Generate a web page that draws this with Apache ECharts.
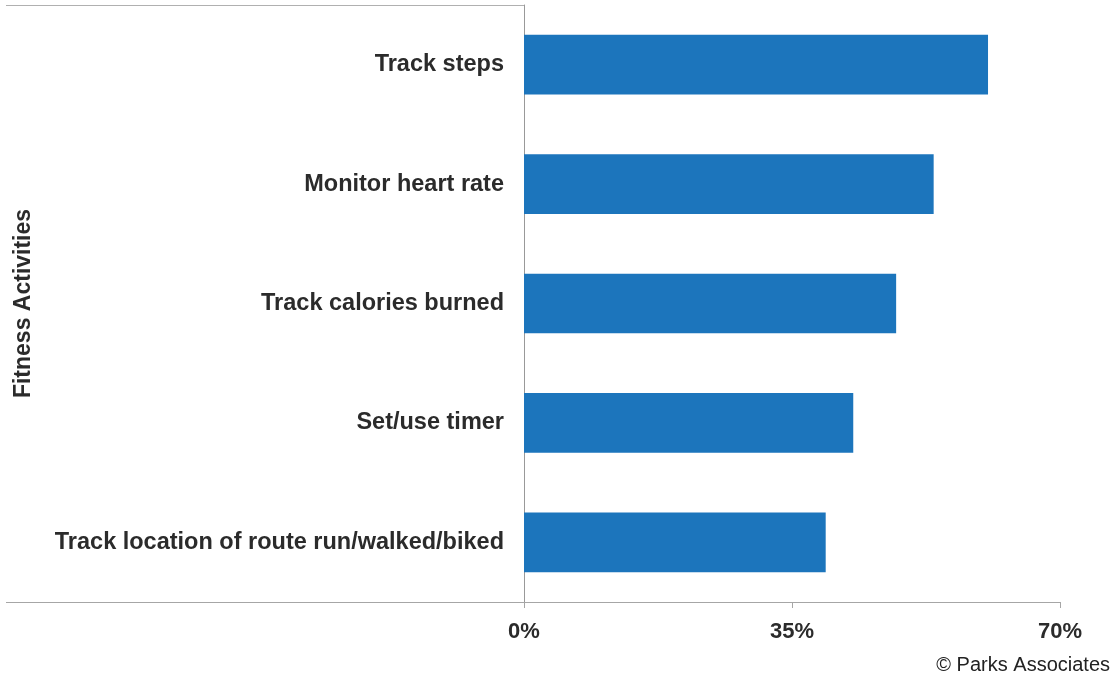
<!DOCTYPE html>
<html>
<head>
<meta charset="utf-8">
<script src="https://cdn.jsdelivr.net/npm/echarts@6/dist/echarts.min.js"></script>
<style>
  html, body { margin: 0; padding: 0; background: #fff; }
  #chart { width: 1115px; height: 681px; }
</style>
</head>
<body>
<div id="chart"></div>
<script>
// activities, bottom to top as drawn
const activities = [
  'Track location of route run/walked/biked',
  'Set/use timer',
  'Track calories burned',
  'Monitor heart rate',
  'Track steps'
]
const shares = [39.4, 43.0, 48.6, 53.5, 60.6]
const xTicks = [0, 35, 70]

const chart = echarts.init(document.getElementById('chart'))
const font = '"Liberation Sans", Arial, sans-serif'

chart.setOption({
  animation: false,
  grid: { left: 524, right: 55, top: 5, bottom: 79, containLabel: false },
  xAxis: {
    type: 'value',
    min: xTicks[0],
    max: xTicks[xTicks.length - 1],
    interval: 35,
    axisLine: { show: true, lineStyle: { color: '#a6a6a6', width: 1 } },
    axisTick: { show: true, length: 6, lineStyle: { color: '#a6a6a6' } },
    splitLine: { show: false },
    axisLabel: {
      formatter: '{value}%',
      color: '#2b2b2b',
      fontFamily: font,
      fontWeight: 'bold',
      fontSize: 22,
      margin: 19
    }
  },
  yAxis: {
    type: 'category',
    data: activities,
    name: 'Fitness Activities',
    nameLocation: 'middle',
    nameGap: 489,
    nameTextStyle: { color: '#2b2b2b', fontFamily: font, fontWeight: 'bold', fontSize: 23 },
    axisLine: { show: true, lineStyle: { color: '#999', width: 1 } },
    axisTick: { show: false },
    axisLabel: {
      color: '#2b2b2b',
      fontFamily: font,
      fontWeight: 'bold',
      fontSize: 23.5,
      margin: 20
    }
  },
  series: [{
    type: 'bar',
    data: shares,
    barWidth: '50%',
    itemStyle: { color: '#1c75bc' }
  }],
  graphic: [
    { type: 'line', shape: { x1: 6, y1: 5.5, x2: 524, y2: 5.5 }, style: { stroke: '#b0b0b0', lineWidth: 1 } },
    { type: 'line', shape: { x1: 6, y1: 602.5, x2: 524, y2: 602.5 }, style: { stroke: '#a6a6a6', lineWidth: 1 } },
    {
      type: 'text', right: 5, top: 655,
      style: { text: '\u00a9 Parks Associates', fill: '#222', font: '20px ' + font }
    }
  ]
})
</script>
</body>
</html>
